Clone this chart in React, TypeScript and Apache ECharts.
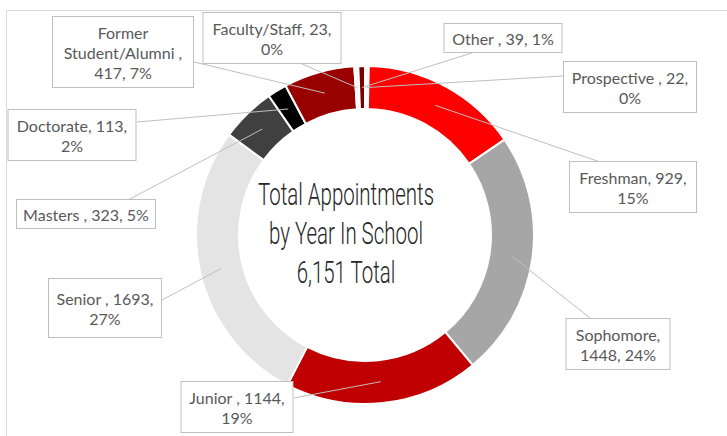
import React, { useEffect, useRef } from 'react';
import * as echarts from 'echarts';

// ---- data ----
const categories = [
  'Prospective ',
  'Freshman',
  'Sophomore',
  'Junior ',
  'Senior ',
  'Masters ',
  'Doctorate',
  'Former Student/Alumni ',
  'Faculty/Staff',
  'Other ',
];
const appointments = [22, 929, 1448, 1144, 1693, 323, 113, 417, 23, 39];
const labelTemplates = [
  '{b}, {c},\n{d}%',
  '{b}, {c},\n{d}%',
  '{b},\n{c}, {d}%',
  '{b}, {c},\n{d}%',
  '{b}, {c},\n{d}%',
  '{b}, {c}, {d}%',
  '{b}, {c},\n{d}%',
  'Former\nStudent/Alumni ,\n{c}, {d}%',
  '{b}, {c},\n{d}%',
  '{b}, {c}, {d}%',
];
const centerTitleLines = ['Total Appointments', 'by Year In School'];
const centerTotalSuffix = ' Total';

// ---- styling ----
const sliceColors = [
  '#FAFAFA',
  '#FF0000',
  '#A6A6A6',
  '#C00000',
  '#E4E4E4',
  '#404040',
  '#000000',
  '#990000',
  '#F5F5F5',
  '#7A0000',
];
// label box layout: [centerX, centerY, boxWidth, paddingV, leaderEndX, leaderEndY]
const labelBoxes: number[][] = [
  [630, 87, 134, 5, 563, 76],
  [633, 187, 128, 5, 600, 162],
  [618, 344, 105, 5, 590, 318],
  [237, 407, 113, 5, 294, 398],
  [105, 308, 114, 9, 162, 300],
  [86, 214, 140, 4, 128, 200],
  [72, 135, 129, 5, 137, 122],
  [123, 52, 142, 5, 194, 62],
  [272, 38, 139, 5, 300, 63],
  [503, 38, 119, 4, 475, 52],
];
const PIE_CENTER = [365, 235];
const RADII = [126, 169];

export default function App() {
  const ref = useRef<HTMLDivElement>(null);
  useEffect(() => {
    if (!ref.current) return;
    const chart = echarts.init(ref.current, undefined, { renderer: 'svg' });
    const total = appointments.reduce((a, b) => a + b, 0);
    const padH = 4;
    // mid angle of each slice (clockwise from 12 o'clock), used only to anchor leader lines
    const midAngles: number[] = [];
    let cum = 0;
    appointments.forEach((v) => {
      midAngles.push(((cum + v / 2) / total) * Math.PI * 2);
      cum += v;
    });
    const rMid = (RADII[0] + RADII[1]) / 2;
    const ringData = categories.map((name, i) => ({
      name,
      value: appointments[i],
      itemStyle: { color: sliceColors[i] },
    }));
    const labelData = categories.map((name, i) => ({
      name,
      value: appointments[i],
      label: {
        formatter: labelTemplates[i],
        width: labelBoxes[i][2] - 2 * padH - 2,
        padding: [labelBoxes[i][3], padH],
      },
    }));
    const centerLines = [...centerTitleLines, total.toLocaleString('en-US') + centerTotalSuffix];
    const common = {
      type: 'pie',
      center: PIE_CENTER,
      radius: RADII,
      startAngle: 90,
      clockwise: true,
      percentPrecision: 0,
      avoidLabelOverlap: false,
      silent: true,
      emphasis: { disabled: true },
    };
    chart.setOption({
      animation: false,
      graphic: [
        {
          type: 'rect',
          silent: true,
          shape: { x: 6.5, y: 10.5, width: 900, height: 600 },
          style: { fill: 'none', stroke: '#D9D9D9', lineWidth: 1 },
          z: -10,
        },
        ...centerLines.map((t, i) => ({
          type: 'text',
          silent: true,
          x: 346,
          y: 194 + i * 39,
          scaleX: 0.66,
          z: 100,
          style: {
            text: t,
            fontFamily: 'Roboto',
            fontWeight: 300,
            fontSize: 31,
            fill: '#262626',
            textAlign: 'center',
            textVerticalAlign: 'middle',
          },
        })),
      ],
      series: [
        {
          ...common,
          z: 2,
          itemStyle: { borderColor: '#FFFFFF', borderWidth: 2 },
          label: { show: false },
          labelLine: { show: false },
          data: ringData,
        },
        {
          ...common,
          z: 5,
          itemStyle: { color: 'rgba(0,0,0,0)', borderWidth: 0 },
          label: {
            show: true,
            position: 'outside',
            color: '#595959',
            fontFamily: 'Lato',
            fontSize: 16,
            lineHeight: 20,
            align: 'center',
            overflow: 'none',
            backgroundColor: '#FFFFFF',
            borderColor: '#BFBFBF',
            borderWidth: 1,
          },
          labelLine: {
            show: true,
            showAbove: true,
            length: 10,
            length2: 10,
            lineStyle: { color: '#BFBFBF', width: 1 },
          },
          labelLayout: (params: any) => {
            const i = params.dataIndex;
            const b = labelBoxes[i];
            const a = midAngles[i];
            const sx = PIE_CENTER[0] + rMid * Math.sin(a);
            const sy = PIE_CENTER[1] - rMid * Math.cos(a);
            return {
              x: b[0],
              y: b[1],
              align: 'center',
              verticalAlign: 'middle',
              labelLinePoints: [
                [sx, sy],
                [(sx + b[4]) / 2, (sy + b[5]) / 2],
                [b[4], b[5]],
              ],
            };
          },
          data: labelData,
        },
      ],
    });
    return () => chart.dispose();
  }, []);
  return (
    <div
      ref={ref}
      style={{ position: 'absolute', left: 0, top: 0, width: 727, height: 436, background: '#fff' }}
    />
  );
}
